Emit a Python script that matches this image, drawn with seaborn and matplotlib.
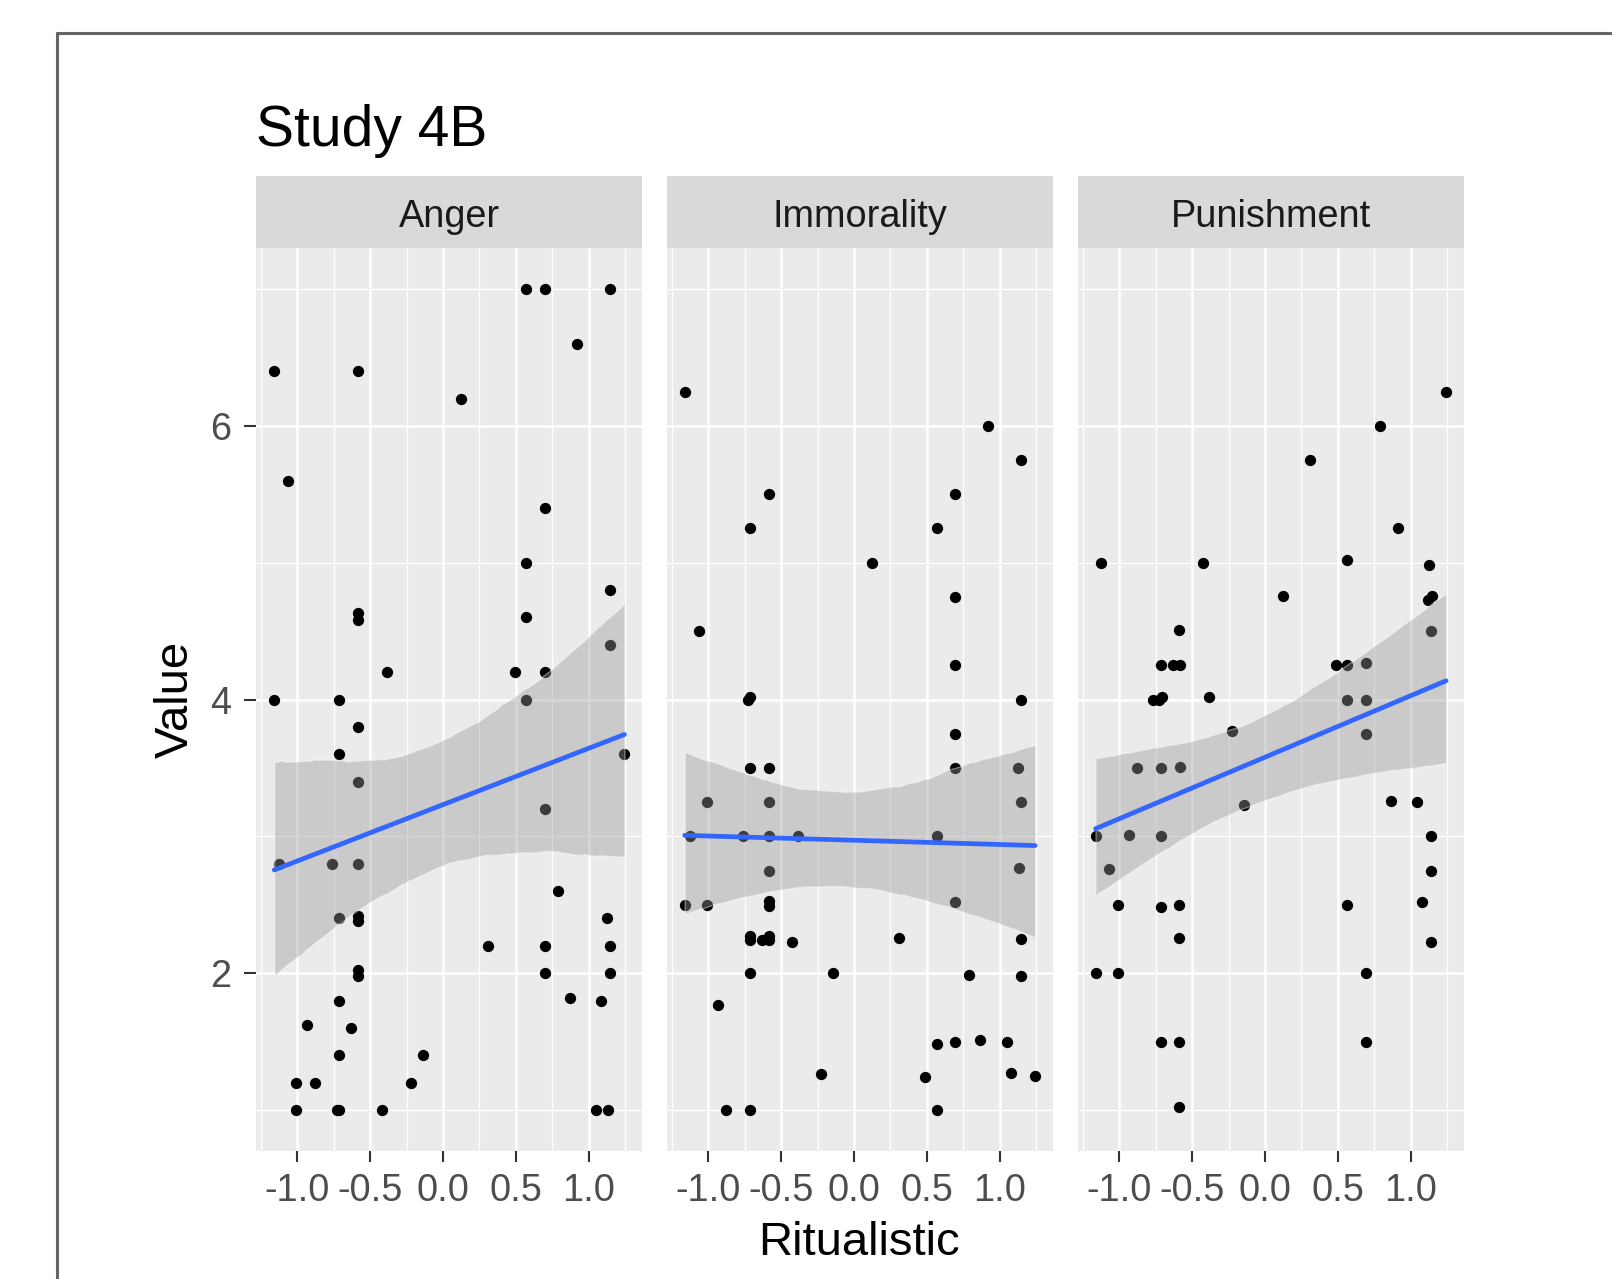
import numpy as np
import pandas as pd
import matplotlib.pyplot as plt
from matplotlib.lines import Line2D
from matplotlib.patches import Rectangle
from matplotlib.ticker import MultipleLocator, FormatStrFormatter
import seaborn as sns

# valeurs (Study 4B)
measures = ["Anger", "Immorality", "Punishment"]

anger_x = [0.569, 0.699, 1.146, 0.923, -1.158, -0.581, 0.127, -1.062, 0.699, 0.569,
           1.146, -0.581, -0.581, 0.569, 1.146, -0.383, 0.494, 0.699, -1.158, -0.711,
           0.569, -0.581, -0.711, -0.581, 1.246, 0.699, -1.128, -0.759, -0.581, 0.793,
           -0.711, -0.581, -0.581, 1.128, 0.312, 0.699, 1.146, -0.581, -0.581, 0.699,
           1.146, -0.711, 0.872, 1.082, -0.930, -0.632, -0.711, -0.137, -1.008, -0.877,
           -0.221, -1.008, -0.730, -0.711, -0.420, 1.052, 1.135]
anger_y = [7.0, 7.0, 7.0, 6.6, 6.4, 6.4, 6.2, 5.6, 5.4, 5.0,
           4.8, 4.63, 4.58, 4.6, 4.4, 4.2, 4.2, 4.2, 4.0, 4.0,
           4.0, 3.8, 3.6, 3.4, 3.6, 3.2, 2.8, 2.8, 2.8, 2.6,
           2.4, 2.42, 2.38, 2.4, 2.2, 2.2, 2.2, 2.02, 1.98, 2.0,
           2.0, 1.8, 1.82, 1.8, 1.62, 1.6, 1.4, 1.4, 1.2, 1.2,
           1.2, 1.0, 1.0, 1.0, 1.0, 1.0, 1.0]

immorality_x = [-1.162, 0.918, 1.144, -0.586, 0.697, -0.716, 0.567, 0.123, 0.697, -1.066,
                0.697, -0.729, -0.711, 1.144, 0.697, -0.716, -0.586, 0.697, 1.125, -1.007,
                -0.586, 1.144, -1.126, -0.761, -0.586, -0.385, 0.567, -0.586, 1.130, -1.162,
                -1.007, -0.586, -0.586, 0.697, -0.716, -0.716, -0.632, -0.586, -0.586, -0.422,
                0.310, 1.144, -0.716, -0.141, 0.793, 1.144, -0.932, 0.567, 0.697, 0.866,
                1.050, -0.224, 0.490, 1.080, 1.244, -0.878, -0.716, 0.567]
immorality_y = [6.25, 6.0, 5.75, 5.5, 5.5, 5.25, 5.25, 5.0, 4.75, 4.5,
                4.25, 4.0, 4.02, 4.0, 3.75, 3.5, 3.5, 3.5, 3.5, 3.25,
                3.25, 3.25, 3.0, 3.0, 3.0, 3.0, 3.0, 2.75, 2.77, 2.5,
                2.5, 2.53, 2.49, 2.52, 2.27, 2.24, 2.24, 2.27, 2.24, 2.23,
                2.26, 2.25, 2.0, 2.0, 1.99, 1.98, 1.77, 1.48, 1.5, 1.51,
                1.5, 1.26, 1.24, 1.27, 1.25, 1.0, 1.0, 1.0]

punishment_x = [1.243, 0.790, 0.309, 0.915, -1.127, -0.423, 0.566, 1.127, 0.122, 1.120,
                1.145, -0.587, 1.143, -0.716, -0.634, -0.582, 0.489, 0.566, 0.694, -0.767,
                -0.726, -0.707, -0.386, 0.566, 0.694, -0.227, 0.694, -0.880, -0.716, -0.584,
                -0.142, 0.865, 1.047, -1.163, -0.933, -0.716, 1.143, -1.068, 1.143, -1.010,
                -0.716, -0.587, 0.566, 1.079, -0.587, 1.143, -1.163, -1.010, 0.696, -0.716,
                -0.587, 0.696, -0.587]
punishment_y = [6.25, 6.0, 5.75, 5.25, 5.0, 5.0, 5.02, 4.98, 4.76, 4.73,
                4.76, 4.51, 4.5, 4.25, 4.25, 4.25, 4.25, 4.25, 4.27, 4.0,
                4.0, 4.02, 4.02, 4.0, 4.0, 3.77, 3.75, 3.5, 3.5, 3.51,
                3.23, 3.26, 3.25, 3.0, 3.01, 3.0, 3.0, 2.76, 2.75, 2.5,
                2.48, 2.5, 2.5, 2.52, 2.26, 2.23, 2.0, 2.0, 2.0, 1.5,
                1.5, 1.5, 1.02]

series = {"Anger": (anger_x, anger_y),
          "Immorality": (immorality_x, immorality_y),
          "Punishment": (punishment_x, punishment_y)}

df = pd.concat([pd.DataFrame({"Ritualistic": sx, "Value": sy, "Measure": m})
                for m, (sx, sy) in series.items()], ignore_index=True)

sns.set_theme(style="darkgrid", rc={"axes.facecolor": "#EBEBEB", "grid.color": "white",
                                    "axes.unicode_minus": False})
plt.rcParams["font.family"] = ["Liberation Sans", "DejaVu Sans"]

W, H = 1612, 1279
fig = plt.figure(figsize=(W / 100, H / 100), dpi=100)
fig.patch.set_facecolor("white")

def fx(px):
    return px / W

def fy(py):
    return 1 - py / H

top, bottom = 248, 1151
lefts = [256, 667, 1078]
pw = 386
strip_h = 72
tick_fs = 27.3

# echelles communes (expansion de 5% comme ggplot)
xlo, xhi = df["Ritualistic"].min(), df["Ritualistic"].max()
ylo, yhi = df["Value"].min(), df["Value"].max()
xpad = 0.05 * (xhi - xlo)
ypad = 0.05 * (yhi - ylo)

for i, m in enumerate(measures):
    ax = fig.add_axes([fx(lefts[i]), fy(bottom), pw / W, (bottom - top) / H])
    sub = df[df["Measure"] == m]
    sns.regplot(data=sub, x="Ritualistic", y="Value", ax=ax, color="black",
                ci=95, n_boot=2000, seed=4,
                scatter_kws=dict(s=66, linewidths=0, alpha=1),
                line_kws=dict(color="#3366FF", lw=3.4))
    band = ax.collections[-1]
    band.set_facecolor("#999999")
    band.set_alpha(0.4)

    ax.set_xlim(xlo - xpad, xhi + xpad)
    ax.set_ylim(ylo - ypad, yhi + ypad)
    ax.xaxis.set_major_locator(MultipleLocator(0.5))
    ax.xaxis.set_minor_locator(MultipleLocator(0.25))
    ax.yaxis.set_major_locator(MultipleLocator(2))
    ax.yaxis.set_minor_locator(MultipleLocator(1))
    ax.xaxis.set_major_formatter(FormatStrFormatter("%.1f"))
    ax.yaxis.set_major_formatter(FormatStrFormatter("%d"))
    ax.grid(which="major", color="white", lw=1.8)
    ax.grid(which="minor", color="white", lw=0.9)
    ax.set_axisbelow(True)
    for s in ax.spines.values():
        s.set_visible(False)

    ax.tick_params(which="minor", length=0)
    ax.tick_params(axis="x", which="major", length=7.9, width=1.5, color="#333333",
                   labelsize=tick_fs, labelcolor="#4D4D4D", pad=8, bottom=True)
    if i == 0:
        ax.tick_params(axis="y", which="major", length=8.5, width=1.5, color="#333333",
                       labelsize=tick_fs, labelcolor="#4D4D4D", pad=9.5, left=True)
    else:
        ax.tick_params(axis="y", which="major", length=0, labelleft=False)
    ax.set_xlabel("")
    ax.set_ylabel("")

    # bandeau de facette
    ph = bottom - top
    ax.add_patch(Rectangle((0, 1), 1, strip_h / ph, transform=ax.transAxes,
                           facecolor="#D9D9D9", edgecolor="none", clip_on=False))
    ax.text(0.5, 1 + (top - 227) / ph, m, transform=ax.transAxes, ha="center",
            va="baseline", fontsize=tick_fs, color="#1A1A1A")

fig.text(fx(859), fy(1255), "Ritualistic", ha="center", va="baseline", fontsize=34,
         color="black")
fig.text(fx(176), fy(699), "Value", ha="center", va="center", rotation=90,
         fontsize=34, color="black")
fig.text(fx(256), fy(146), "Study 4B", ha="left", va="baseline", fontsize=41,
         color="black")

# cadre de la capture
fig.add_artist(Line2D([fx(57), 1], [fy(32.5), fy(32.5)], color="#666666", lw=2.2))
fig.add_artist(Line2D([fx(57), fx(57)], [0, fy(32.5)], color="#666666", lw=2.2))

fig.savefig("out.png", dpi=100, facecolor="white")
